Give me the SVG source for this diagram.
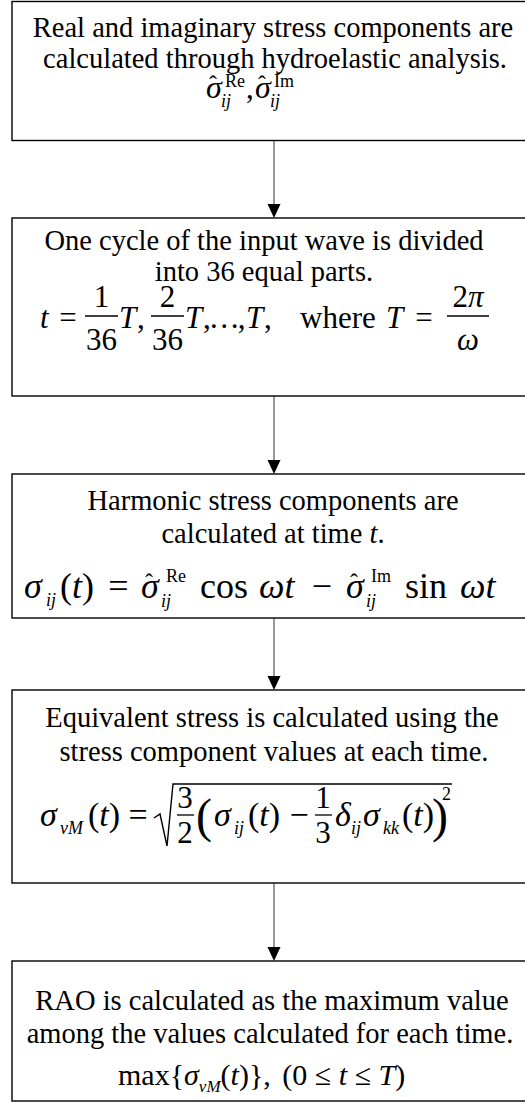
<svg xmlns="http://www.w3.org/2000/svg" width="525" height="1102" viewBox="0 0 525 1102">
<style>
.box{fill:#fff;stroke:#000;stroke-width:1.4}
.t{font-family:"Liberation Serif","Times New Roman",serif;font-size:28.5px;text-anchor:middle;fill:#000}
.m{font-family:"Liberation Serif","Times New Roman",serif;font-size:31px;fill:#000}
.b{font-size:36px}
.i{font-style:italic}
.s{font-size:18px}
.c{text-anchor:middle}
.h{font-size:24px}
.bar{stroke:#000;stroke-width:1.3}
.conn line{stroke:#555;stroke-width:1.2}
.conn polygon{fill:#000}
</style>
<rect width="525" height="1102" fill="#fff"/>
<g class="conn" id="connectors">
<line x1="274" y1="141" x2="274" y2="205"/><polygon points="267.5,204 280.5,204 274,218"/>
<line x1="274" y1="396" x2="274" y2="461"/><polygon points="267.5,460 280.5,460 274,474"/>
<line x1="274" y1="618" x2="274" y2="677"/><polygon points="267.5,676 280.5,676 274,690"/>
<line x1="274" y1="883" x2="274" y2="948"/><polygon points="267.5,947 280.5,947 274,961"/>
</g>
<g id="n1">
<rect class="box" x="12" y="1.5" width="530" height="139"/>
<text class="t" x="273" y="37">Real and imaginary stress components are</text>
<text class="t" x="275" y="68">calculated through hydroelastic analysis.</text>
<text class="m i" x="206" y="98" style="font-size:32px">σ</text><text class="m h" x="209" y="92">ˆ</text>
<text class="m s" x="225" y="87">Re</text><text class="m s i" x="221" y="107">ij</text>
<text class="m" x="246" y="98">,</text>
<text class="m i" x="255" y="98" style="font-size:32px">σ</text><text class="m h" x="258" y="92">ˆ</text>
<text class="m s" x="274" y="87">Im</text><text class="m s i" x="270" y="107">ij</text>
</g>
<g id="n2">
<rect class="box" x="12" y="218" width="530" height="178"/>
<text class="t" x="264" y="250">One cycle of the input wave is divided</text>
<text class="t" x="264" y="281">into 36 equal parts.</text>
<text class="m i" x="40" y="328">t</text>
<text class="m c" x="68" y="328">=</text>
<text class="m c" x="101.5" y="307">1</text><line class="bar" x1="85" y1="316" x2="118" y2="316"/><text class="m c" x="101.5" y="350">36</text>
<text class="m i" x="119" y="328">T</text><text class="m" x="137" y="328">,</text>
<text class="m c" x="167.5" y="307">2</text><line class="bar" x1="151" y1="316" x2="184" y2="316"/><text class="m c" x="167.5" y="350">36</text>
<text class="m i" x="185" y="328">T</text><text class="m" x="203" y="328" style="letter-spacing:-2px">,…,</text>
<text class="m i" x="246" y="328">T</text><text class="m" x="264" y="328">,</text>
<text class="m" x="300" y="328">where</text>
<text class="m i" x="386" y="328">T</text>
<text class="m c" x="424" y="328">=</text>
<text class="m c" x="468" y="307">2<tspan class="i">π</tspan></text><line class="bar" x1="447" y1="316" x2="489" y2="316"/><text class="m c i" x="468" y="350">ω</text>
</g>
<g id="n3">
<rect class="box" x="12" y="474" width="530" height="144"/>
<text class="t" x="273" y="510">Harmonic stress components are</text>
<text class="t" x="273" y="543">calculated at time <tspan class="i">t</tspan>.</text>
<text class="m i b" x="24" y="598">σ</text><text class="m s i" x="46" y="606">ij</text>
<text class="m b" x="60" y="598">(<tspan class="i">t</tspan>)</text>
<text class="m c b" x="118.5" y="598">=</text>
<text class="m i b" x="141" y="598">σ</text><text class="m h" x="145" y="590">ˆ</text>
<text class="m s" x="166" y="582">Re</text><text class="m s i" x="161" y="607">ij</text>
<text class="m b" x="200" y="598">cos</text>
<text class="m i b" x="259" y="598">ωt</text>
<text class="m c b" x="322" y="598">−</text>
<text class="m i b" x="346" y="598">σ</text><text class="m h" x="350" y="590">ˆ</text>
<text class="m s" x="371" y="582">Im</text><text class="m s i" x="366" y="607">ij</text>
<text class="m b" x="405" y="598">sin</text>
<text class="m i b" x="460" y="598">ωt</text>
</g>
<g id="n4">
<rect class="box" x="12" y="690" width="530" height="193"/>
<text class="t" x="272" y="727">Equivalent stress is calculated using the</text>
<text class="t" x="274" y="761">stress component values at each time.</text>
<text class="m i" x="40" y="826" style="font-size:34px">σ</text><text class="m s i" x="60" y="834">vM</text>
<text class="m" x="88" y="826" style="font-size:34px">(<tspan class="i">t</tspan>)</text>
<text class="m c" x="138" y="826" style="font-size:34px">=</text>
<path d="M154,818 L160,814 L167,846 L173,784 L452,784" fill="none" stroke="#000" stroke-width="1.4"/>
<text class="m c" x="185" y="808">3</text><line class="bar" x1="177" y1="815" x2="194" y2="815"/><text class="m c" x="185" y="843">2</text>
<text class="m" x="196" y="832" style="font-size:48px">(</text>
<text class="m i" x="214" y="826" style="font-size:34px">σ</text><text class="m s i" x="234" y="834">ij</text>
<text class="m" x="248" y="826" style="font-size:34px">(<tspan class="i">t</tspan>)</text>
<text class="m c" x="299" y="826" style="font-size:34px">−</text>
<text class="m c" x="323" y="808">1</text><line class="bar" x1="315" y1="815" x2="332" y2="815"/><text class="m c" x="323" y="843">3</text>
<text class="m i" x="335" y="826" style="font-size:34px">δ</text><text class="m s i" x="351" y="834">ij</text>
<text class="m i" x="363" y="826" style="font-size:34px">σ</text><text class="m s i" x="383" y="834">kk</text>
<text class="m" x="402" y="826" style="font-size:34px">(<tspan class="i">t</tspan>)</text>
<text class="m" x="432" y="832" style="font-size:48px">)</text>
<text class="m s" x="442" y="800">2</text>
</g>
<g id="n5">
<rect class="box" x="12" y="961" width="530" height="140"/>
<text class="t" x="272" y="1010">RAO is calculated as the maximum value</text>
<text class="t" x="270" y="1043">among the values calculated for each time.</text>
<text class="m" x="118" y="1085" style="font-size:30px">max{<tspan class="i">σ</tspan><tspan class="i" style="font-size:17px" dy="7">vM</tspan><tspan dy="-7">(</tspan><tspan class="i">t</tspan>)}, <tspan dx="4">(0 ≤ </tspan><tspan class="i">t</tspan> ≤ <tspan class="i">T</tspan>)</text>
</g>
</svg>
